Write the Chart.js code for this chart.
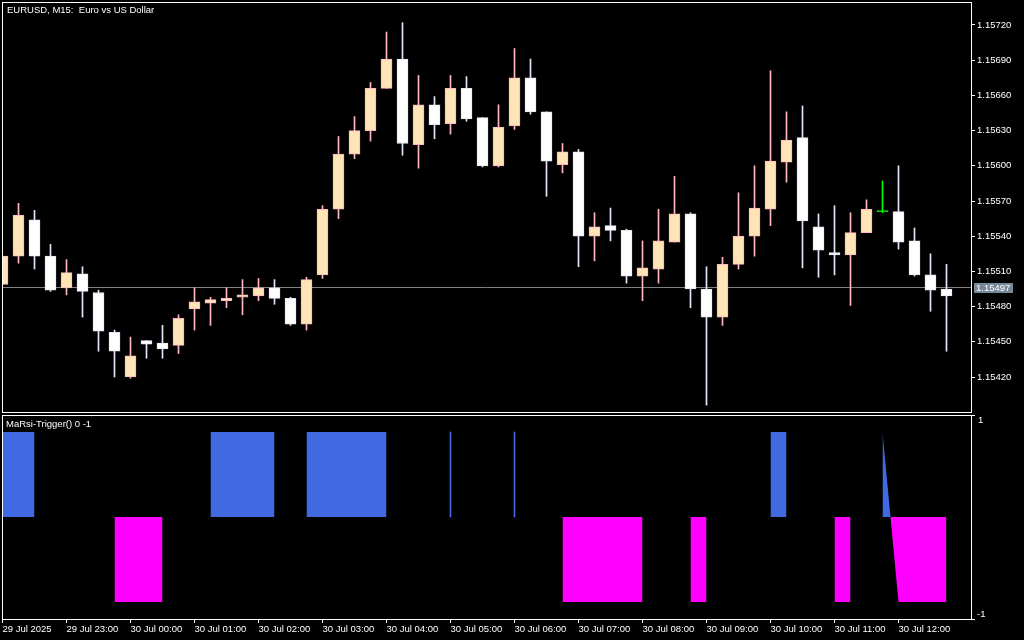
<!DOCTYPE html>
<html><head><meta charset="utf-8">
<script src="https://cdn.jsdelivr.net/npm/chart.js@4/dist/chart.umd.min.js"></script>
<style>
html,body{margin:0;padding:0;background:#000;width:1024px;height:640px;overflow:hidden}
#c1{position:absolute;left:0;top:0}
#c2{position:absolute;left:0;top:413px}
</style></head><body>
<canvas id="c1" width="1024" height="413"></canvas>
<canvas id="c2" width="1024" height="227"></canvas>
<script>
const symbolTitle = 'EURUSD, M15:  Euro vs US Dollar';
const indicatorTitle = 'MaRsi-Trigger() 0 -1';

// 15-minute bars, 29 Jul 22:00 .. 30 Jul 12:45
const barTimes = [
 '29 Jul 22:00','29 Jul 22:15','29 Jul 22:30','29 Jul 22:45','29 Jul 23:00','29 Jul 23:15','29 Jul 23:30','29 Jul 23:45',
 '30 Jul 00:00','30 Jul 00:15','30 Jul 00:30','30 Jul 00:45','30 Jul 01:00','30 Jul 01:15','30 Jul 01:30','30 Jul 01:45',
 '30 Jul 02:00','30 Jul 02:15','30 Jul 02:30','30 Jul 02:45','30 Jul 03:00','30 Jul 03:15','30 Jul 03:30','30 Jul 03:45',
 '30 Jul 04:00','30 Jul 04:15','30 Jul 04:30','30 Jul 04:45','30 Jul 05:00','30 Jul 05:15','30 Jul 05:30','30 Jul 05:45',
 '30 Jul 06:00','30 Jul 06:15','30 Jul 06:30','30 Jul 06:45','30 Jul 07:00','30 Jul 07:15','30 Jul 07:30','30 Jul 07:45',
 '30 Jul 08:00','30 Jul 08:15','30 Jul 08:30','30 Jul 08:45','30 Jul 09:00','30 Jul 09:15','30 Jul 09:30','30 Jul 09:45',
 '30 Jul 10:00','30 Jul 10:15','30 Jul 10:30','30 Jul 10:45','30 Jul 11:00','30 Jul 11:15','30 Jul 11:30','30 Jul 11:45',
 '30 Jul 12:00','30 Jul 12:15','30 Jul 12:30','30 Jul 12:45'
];
const opens = [
 1.15499,1.15523,1.15554,1.15523,1.15496,1.15508,1.15492,1.15458,1.15420,1.15451,
 1.15449,1.15447,1.15478,1.15483,1.15485,1.15488,1.15489,1.15496,1.15487,1.15465,
 1.15507,1.15563,1.15610,1.15630,1.15666,1.15691,1.15618,1.15652,1.15636,1.15666,
 1.15641,1.15600,1.15634,1.15675,1.15646,1.15601,1.15612,1.15540,1.15549,1.15545,
 1.15506,1.15512,1.15535,1.15559,1.15495,1.15471,1.15516,1.15540,1.15563,1.15603,
 1.15624,1.15548,1.15526,1.15524,1.15543,1.15561,1.15561,1.15536,1.15507,1.15495
];
const highs = [
 1.15523,1.15568,1.15562,1.15533,1.15520,1.15514,1.15494,1.15460,1.15454,1.15451,
 1.15464,1.15473,1.15496,1.15488,1.15496,1.15503,1.15504,1.15503,1.15488,1.15505,
 1.15566,1.15625,1.15642,1.15671,1.15714,1.15722,1.15677,1.15659,1.15677,1.15676,
 1.15641,1.15652,1.15700,1.15691,1.15646,1.15619,1.15614,1.15560,1.15564,1.15546,
 1.15536,1.15563,1.15591,1.15560,1.15514,1.15522,1.15577,1.15600,1.15681,1.15646,
 1.15651,1.15559,1.15566,1.15560,1.15571,1.15587,1.15600,1.15547,1.15525,1.15516
];
const lows = [
 1.15499,1.15517,1.15512,1.15493,1.15490,1.15471,1.15442,1.15420,1.15419,1.15436,
 1.15436,1.15440,1.15460,1.15464,1.15479,1.15473,1.15485,1.15482,1.15464,1.15460,
 1.15504,1.15555,1.15606,1.15621,1.15666,1.15609,1.15598,1.15623,1.15627,1.15638,
 1.15599,1.15599,1.15631,1.15644,1.15574,1.15594,1.15514,1.15519,1.15536,1.15500,
 1.15485,1.15500,1.15535,1.15479,1.15396,1.15464,1.15512,1.15523,1.15549,1.15586,
 1.15513,1.15505,1.15507,1.15481,1.15543,1.15560,1.15529,1.15506,1.15476,1.15442
];
const closes = [
 1.15523,1.15558,1.15523,1.15494,1.15509,1.15493,1.15459,1.15442,1.15438,1.15448,
 1.15444,1.15470,1.15484,1.15486,1.15487,1.15490,1.15496,1.15487,1.15465,1.15503,
 1.15563,1.15610,1.15630,1.15666,1.15691,1.15619,1.15652,1.15635,1.15666,1.15640,
 1.15600,1.15633,1.15675,1.15646,1.15604,1.15612,1.15540,1.15548,1.15545,1.15506,
 1.15513,1.15536,1.15559,1.15495,1.15471,1.15516,1.15540,1.15564,1.15604,1.15622,
 1.15553,1.15528,1.15524,1.15543,1.15563,1.15561,1.15535,1.15507,1.15494,1.15489
];
// MaRsi-Trigger signal: 1 / -1 / empty
const signal = [
 1,1,1,null,null,null,null,-1,-1,-1,
 -1,null,null,1,1,1,1,1,null,1,
 1,1,1,1,1,null,null,null,1,null,
 null,null,1,null,null,-1,-1,-1,-1,-1,
 -1,null,null,-1,-1,null,null,null,1,1,
 null,null,-1,-1,null,1,-1,-1,-1,-1
];
const currentPrice = 1.15497;
const priceTickValues = [1.15420,1.15450,1.15480,1.15510,1.15540,1.15570,1.15600,1.15630,1.15660,1.15690,1.15720];
const timeTickBars = [0,4,8,12,16,20,24,28,32,36,40,44,48,52,56];
const timeTickLabels = ['29 Jul 2025','29 Jul 23:00','30 Jul 00:00','30 Jul 01:00','30 Jul 02:00','30 Jul 03:00','30 Jul 04:00',
 '30 Jul 05:00','30 Jul 06:00','30 Jul 07:00','30 Jul 08:00','30 Jul 09:00','30 Jul 10:00','30 Jul 11:00','30 Jul 12:00'];
const indicatorTickLabels = ['1','-1'];

const FONT = 'Liberation Sans, Arial, sans-serif';
const FS = 9.5;
const BULL_FILL='#FFE4B5', BULL_LINE='#FFB6C1', BEAR_FILL='#FFFFFF', BEAR_LINE='#E6E6FA', DOJI='#00FF00';
const BLUE='#4169E1', MAGENTA='#FF00FF';
const X_MIN=-0.03125, X_MAX=60.53125;

function kind(i){ return closes[i]>opens[i]?'bull':(closes[i]<opens[i]?'bear':'doji'); }
const fillCol = barTimes.map((t,i)=>({bull:BULL_FILL,bear:BEAR_FILL,doji:DOJI})[kind(i)]);
const lineCol = barTimes.map((t,i)=>({bull:BULL_LINE,bear:BEAR_LINE,doji:DOJI})[kind(i)]);

const framePlugin = {
  id:'frame',
  afterDraw(chart){
    const {ctx, chartArea:a} = chart;
    ctx.save();
    ctx.strokeStyle='#fff'; ctx.lineWidth=1;
    ctx.strokeRect(Math.floor(a.left)+0.5, Math.floor(a.top)+0.5, Math.round(a.right-a.left), Math.round(a.bottom-a.top));
    ctx.restore();
  }
};

const mainPlugin = {
  id:'mainText',
  beforeDatasetsDraw(chart){
    const {ctx, chartArea:a} = chart;
    const y = Math.round(chart.scales.y.getPixelForValue(currentPrice))+0.5;
    ctx.save();
    ctx.strokeStyle='#808080'; ctx.lineWidth=1;
    ctx.beginPath(); ctx.moveTo(a.left, y); ctx.lineTo(a.right, y); ctx.stroke();
    ctx.restore();
  },
  afterDraw(chart){
    const {ctx, chartArea:a} = chart;
    const y = Math.round(chart.scales.y.getPixelForValue(currentPrice));
    ctx.save();
    ctx.font = FS+'px '+FONT;
    ctx.fillStyle='#fff'; ctx.textBaseline='alphabetic'; ctx.textAlign='left';
    ctx.fillText(symbolTitle, 7, 13);
    ctx.fillStyle='#778899';
    ctx.fillRect(974, y-4, 39, 10);
    ctx.fillStyle='#fff'; ctx.textBaseline='middle';
    ctx.fillText(currentPrice.toFixed(5), 976, y+1);
    ctx.restore();
  }
};

const indPlugin = {
  id:'indText',
  afterDraw(chart){
    const {ctx} = chart;
    ctx.save();
    ctx.font = FS+'px '+FONT;
    ctx.fillStyle='#fff'; ctx.textBaseline='alphabetic'; ctx.textAlign='left';
    ctx.fillText(indicatorTitle, 6, 14);
    ctx.fillText(indicatorTickLabels[0], 978, 10);
    ctx.fillText(indicatorTickLabels[1], 977, 204);
    ctx.restore();
  }
};

new Chart(document.getElementById('c1'), {
  type:'bar',
  data:{datasets:[
    {label:'wick', data: barTimes.map((t,i)=>({x:i, y:[lows[i], highs[i]]})),
     backgroundColor: lineCol, borderWidth:0, barThickness:1, grouped:false, order:2},
    {label:'body', data: barTimes.map((t,i)=>({x:i, y:[opens[i], closes[i]]})),
     backgroundColor: fillCol, borderColor: lineCol, borderWidth:1, borderSkipped:false,
     barThickness:11, minBarLength:1, grouped:false, order:1}
  ]},
  options:{
    responsive:false, animation:false, devicePixelRatio:1, events:[],
    layout:{padding:{left:2, top:2, right:0, bottom:1}},
    plugins:{legend:{display:false}, tooltip:{enabled:false}},
    scales:{
      x:{type:'linear', display:false, min:X_MIN, max:X_MAX, offset:false},
      y:{type:'linear', position:'right', min:1.15390172, max:1.15739602,
         afterBuildTicks(s){ s.ticks = priceTickValues.map(v=>({value:v})); },
         afterFit(s){ s.width=53; s.paddingTop=0; s.paddingBottom=0; },
         grid:{drawOnChartArea:false, drawTicks:true, tickLength:4, color:'#fff'},
         border:{display:true, color:'#fff'},
         ticks:{color:'#fff', font:{family:FONT, size:FS}, padding:2, autoSkip:false,
                callback:(v)=>Number(v).toFixed(5)}}
    }
  },
  plugins:[mainPlugin, framePlugin]
});

const isolated = signal.map((v,i)=> (v!==null && (i===0 || signal[i-1]===null) && (i===signal.length-1 || signal[i+1]===null)) ? v : null);

new Chart(document.getElementById('c2'), {
  type:'line',
  data:{datasets:[
    {type:'line', label:'trigger', data: signal.map((v,i)=>({x:i, y:v})),
     borderColor:'rgba(0,0,0,0)', borderWidth:0, pointRadius:0, tension:0, spanGaps:false,
     fill:{target:'origin', above:BLUE, below:MAGENTA}},
    {type:'bar', label:'single', data: isolated.map((v,i)=>({x:i, y:v})),
     backgroundColor: isolated.map(v=> v>0?BLUE:MAGENTA), borderWidth:0, barThickness:1, grouped:false}
  ]},
  options:{
    responsive:false, animation:false, devicePixelRatio:1, events:[],
    layout:{padding:{left:2, top:2, right:0, bottom:0}},
    plugins:{legend:{display:false}, tooltip:{enabled:false}},
    scales:{
      x:{type:'linear', position:'bottom', min:X_MIN, max:X_MAX, offset:false,
         afterBuildTicks(s){ s.ticks = timeTickBars.map(v=>({value:v})); },
         afterFit(s){ s.height=21; s.paddingLeft=0; s.paddingRight=0; },
         grid:{drawOnChartArea:false, drawTicks:true, tickLength:4, color:'#fff', offset:false},
         border:{display:true, color:'#fff'},
         ticks:{color:'#fff', font:{family:FONT, size:FS}, padding:1, autoSkip:false, maxRotation:0, minRotation:0, align:'start',
                callback:(v,i)=>timeTickLabels[i]}},
      y:{type:'linear', position:'right', min:-1.2, max:1.2,
         afterBuildTicks(s){ s.ticks = [{value:-1.2},{value:1.2}]; },
         afterFit(s){ s.width=53; s.paddingTop=0; s.paddingBottom=0; },
         grid:{drawOnChartArea:false, drawTicks:true, tickLength:4, color:'#fff'},
         border:{display:true, color:'#fff'},
         ticks:{display:true, color:'#fff', font:{family:FONT, size:FS}, callback:()=>''}}
    }
  },
  plugins:[indPlugin, framePlugin]
});
</script>
</body></html>
